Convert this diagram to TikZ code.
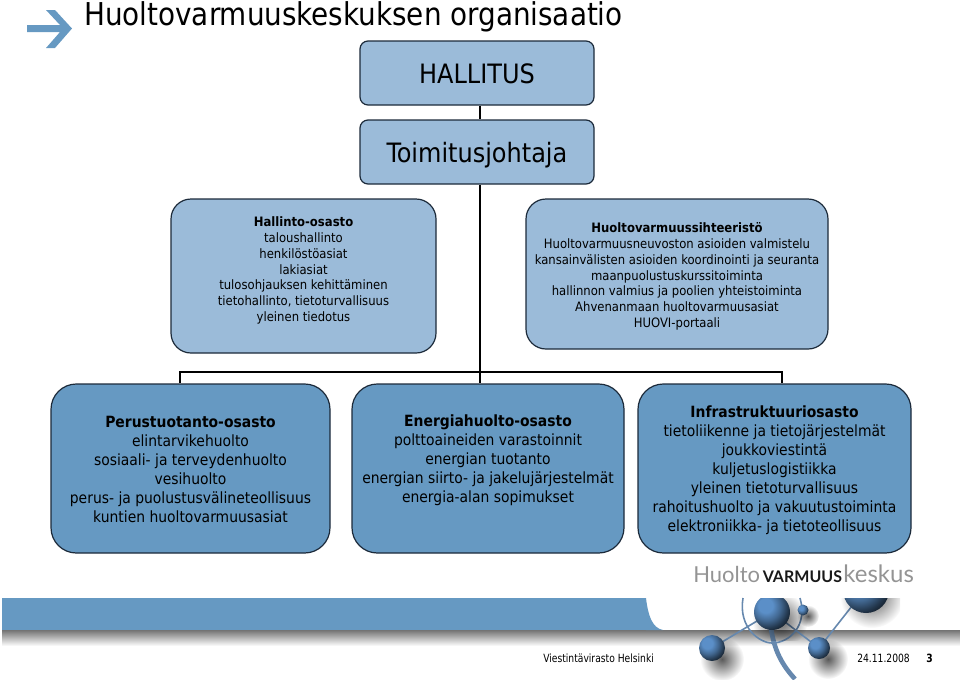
\documentclass[tikz,border=0pt]{standalone}
\usepackage{fontspec}
\setmainfont{DejaVu Sans Condensed}
\newfontfamily\logofont{Lato}
\newfontfamily\titlefont[FakeStretch=0.983]{DejaVu Sans Condensed}
\newfontfamily\footfont[FakeStretch=0.9]{DejaVu Sans Condensed}
\usetikzlibrary{positioning,fadings}
\definecolor{boxlight}{HTML}{9BBBD9}
\definecolor{boxdark}{HTML}{6699C2}
\definecolor{boxedge}{HTML}{1C2A3A}
\definecolor{ballblue}{HTML}{5B8FC8}
\definecolor{linkblue}{HTML}{6688AE}
\pgfdeclareradialshading{blueball}{\pgfpoint{-10bp}{10bp}}{color(0bp)=(ballblue); color(10bp)=(ballblue); color(20bp)=(ballblue!72!black); color(29bp)=(ballblue!40!black); color(42bp)=(black); color(100bp)=(black)}
\tikzfading[name=softdisc,inner color=transparent!35,outer color=transparent!100]
\tikzset{
  topbox/.style={draw=boxedge,line width=0.9pt,fill=boxlight,rounded corners=6pt,inner sep=0pt,minimum width=175.5pt,minimum height=48pt},
  midbox/.style={draw=boxedge,line width=0.9pt,fill=boxlight,rounded corners=15pt,inner sep=0pt},
  lowbox/.style={draw=boxedge,line width=0.9pt,fill=boxdark,rounded corners=19pt,inner sep=0pt},
  toptxt/.style={inner sep=0pt,font=\fontsize{20}{24}\selectfont},
  midtxt/.style={align=center,inner sep=0pt,font=\fontsize{9.7}{11.85}\selectfont},
  lowtxt/.style={align=center,inner sep=0pt,font=\fontsize{11.6}{14.2}\selectfont},
  foottxt/.style={anchor=base west,inner sep=0pt,font=\footfont\fontsize{8.5}{11}\selectfont},
  conn/.style={line width=2.2pt,black},
  link/.style={linkblue,line width=1.2pt},
  ballshadow/.style={black,path fading=softdisc},
  ball/.style={shading=blueball},
}
\begin{document}
\begin{tikzpicture}[x=0.75pt,y=-0.75pt]
\useasboundingbox (0,0) rectangle (960,679);
% title
\fill[boxdark] (27,25) -- (60,25) -- (46,10) -- (55,10) -- (72,28.5) -- (55,48) -- (46,48) -- (60,32) -- (27,32) -- cycle;
\node[anchor=base west,inner sep=0pt,font=\titlefont\fontsize{23.6}{28}\selectfont] (title) at (84,25) {Huoltovarmuuskeskuksen organisaatio};
% boxes
\node[topbox] (hallitus) at (477,73) {};
\node[topbox] (toimitus) at (477,152) {};
\node[midbox,minimum width=198.75pt,minimum height=115.5pt] (hallinto) at (303.5,276) {};
\node[midbox,minimum width=226.5pt,minimum height=112.5pt] (sihteeristo) at (677,274) {};
\node[lowbox,minimum width=209.25pt,minimum height=126.75pt] (perus) at (190.5,468.5) {};
\node[lowbox,minimum width=204pt,minimum height=126.75pt] (energia) at (488,468.5) {};
\node[lowbox,minimum width=204.75pt,minimum height=126.75pt] (infra) at (774.5,468.5) {};
% connectors
\coordinate (bus) at (480,372);
\coordinate (busl) at (180,372);
\coordinate (busr) at (782,372);
\draw[conn] (hallitus.south -| bus) -- (toimitus.north -| bus);
\draw[conn] (toimitus.south -| bus) -- (energia.north -| bus);
\draw[conn] (perus.north -| busl) -- (busl) -- (busr) -- (infra.north -| busr);
% texts
\node[toptxt] (hallitustxt) at (477,74) {HALLITUS};
\node[toptxt] (toimitustxt) at (477,155) {Toimitusjohtaja};
\node[midtxt] (hallintotxt) at (303.5,270.5) {\textbf{Hallinto-osasto}\\taloushallinto\\henkilöstöasiat\\lakiasiat\\tulosohjauksen kehittäminen\\tietohallinto, tietoturvallisuus\\yleinen tiedotus};
\node[midtxt] (sihteeristotxt) at (677,276.5) {\textbf{Huoltovarmuussihteeristö}\\Huoltovarmuusneuvoston asioiden valmistelu\\kansainvälisten asioiden koordinointi ja seuranta\\maanpuolustuskurssitoiminta\\hallinnon valmius ja poolien yhteistoiminta\\Ahvenanmaan huoltovarmuusasiat\\HUOVI-portaali};
\node[lowtxt] (perustxt) at (190.5,469.5) {\textbf{Perustuotanto-osasto}\\elintarvikehuolto\\sosiaali- ja terveydenhuolto\\vesihuolto\\perus- ja puolustusvälineteollisuus\\kuntien huoltovarmuusasiat};
\node[lowtxt] (energiatxt) at (488,460.5) {\textbf{Energiahuolto-osasto}\\polttoaineiden varastoinnit\\energian tuotanto\\energian siirto- ja jakelujärjestelmät\\energia-alan sopimukset};
\node[lowtxt] (infratxt) at (774.5,470.5) {\textbf{Infrastruktuuriosasto}\\tietoliikenne ja tietojärjestelmät\\joukkoviestintä\\kuljetuslogistiikka\\yleinen tietoturvallisuus\\rahoitushuolto ja vakuutustoiminta\\elektroniikka- ja tietoteollisuus};
% logo
\node[anchor=base west,inner sep=0pt,font=\logofont\fontsize{16.5}{20}\selectfont,text=black!42] (logo) at (693,582) {Huolto\kern2pt{\fontsize{12}{20}\selectfont\bfseries\textcolor{black!90}{VARMUUS}}\kern1pt{\fontsize{18}{20}\selectfont keskus}};
% footer band
\shade[top color=black!55,bottom color=white] (2,630) rectangle (960,646);
\fill[boxdark] (2,598) rectangle (646,630);
\fill[boxdark] (646,598) .. controls (648,615) and (652,628) .. (663,630) -- (646,630) -- cycle;
% balls
\draw[link] (743,598) .. controls (738,628) and (760,643) .. (772,643) .. controls (790,643) and (808,625) .. (800,598);
\draw[link,line width=3.5pt] (771,628) .. controls (774,650) and (782,665) .. (795,679);
\draw[link] (712,648) -- (772,612);
\draw[link] (772,612) -- (819,648);
\draw[link] (819,648) -- (852,606);
\fill[ballshadow] (722,659) circle (22);
\fill[ballshadow] (828,659) circle (20);
\fill[ballshadow] (808,616) circle (11);
\begin{scope}
\clip (730,598) rectangle (900,640);
\fill[ballshadow] (780,620) circle (28);
\fill[ballshadow] (872,596) circle (32);
\shade[ball] (772,612) circle (18);
\shade[ball] (866,590) circle (23);
\end{scope}
\shade[ball] (803,610) circle (5.5);
\shade[ball] (712,648) circle (13);
\shade[ball] (819,648) circle (11);
% footer
\node[foottxt] (virasto) at (543,662) {Viestintävirasto Helsinki};
\node[foottxt] (pvm) at (857,662) {24.11.2008};
\node[foottxt,font=\footfont\fontsize{8.5}{11}\selectfont\bfseries] (sivu) at (926,662) {3};
\end{tikzpicture}
\end{document}
